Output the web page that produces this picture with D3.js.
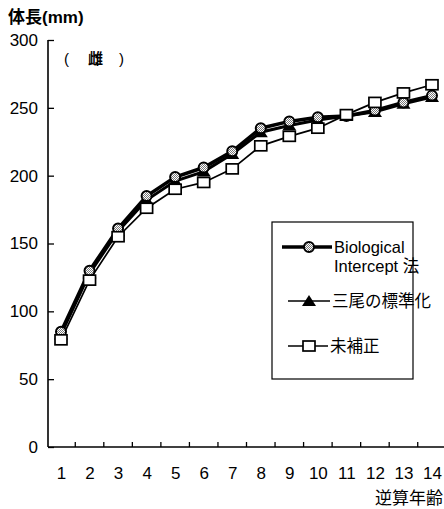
<!DOCTYPE html>
<html><head><meta charset="utf-8">
<script src="https://cdn.jsdelivr.net/npm/d3@7"></script>
<style>
body{margin:0;background:#fff;}
text{font-family:"Liberation Sans",Arial,"Noto Sans CJK JP",sans-serif;fill:#000;}
</style></head>
<body>
<script>
const ages = [1,2,3,4,5,6,7,8,9,10,11,12,13,14];
const biological = [85,130,161,185,199,206,218,235,240,243,244,248,254,259];
const mio = [83,128,159,182,196,203,216,232,237,241,244,247,253,258];
const uncorrected = [79,123,155,176,190,195,205,222,229,235,245,254,261,267];
const yTicks = [0,50,100,150,200,250,300];
const seriesNames = ["Biological\nIntercept  法","三尾の標準化","未補正"];

const W=444,H=509;
const svg=d3.select("body").append("svg").attr("width",W).attr("height",H);

const x=d3.scaleLinear().domain([1,14]).range([61,432]);
const y=d3.scaleLinear().domain([0,300]).range([447,40]);

// y axis
const yAxis=d3.axisLeft(y).tickValues(yTicks).tickSize(-6).tickPadding(10).tickFormat(d3.format("d"));
const gy=svg.append("g").attr("transform","translate(48,0)").call(yAxis);
gy.select(".domain").attr("d",`M0,${y(0)}V${y(300)}`).attr("stroke","#000").attr("stroke-width",1.6);
gy.selectAll(".tick line").attr("stroke","#000").attr("stroke-width",1.3);
gy.selectAll(".tick text").attr("font-size",17).attr("x",-10).style("font-family","Liberation Sans, Arial, sans-serif");

// x axis: labels at ages, tick marks between
const xAxis=d3.axisBottom(x).tickValues(ages).tickSize(0).tickPadding(20).tickFormat(d3.format("d"));
const gx=svg.append("g").attr("transform",`translate(0,${y(0)})`).call(xAxis);
gx.select(".domain").attr("d",`M48,0H444`).attr("stroke","#000").attr("stroke-width",1.6);
gx.selectAll(".tick text").attr("font-size",17).style("font-family","Liberation Sans, Arial, sans-serif");
const mids=ages.slice(0,-1).map(a=>a+0.5);
gx.selectAll("line.mid").data(mids).enter().append("line").attr("class","mid")
  .attr("x1",d=>x(d)).attr("x2",d=>x(d)).attr("y1",0).attr("y2",-5).attr("stroke","#000").attr("stroke-width",1.3);

// titles
svg.append("text").attr("x",8).attr("y",23).attr("font-size",17).attr("font-weight","bold").text("体長(mm)");
svg.append("text").attr("x",443).attr("y",504).attr("text-anchor","end").attr("font-size",17).text("逆算年齢");
svg.append("text").attr("x",64).attr("y",64).attr("font-size",15).text("(");
svg.append("text").attr("x",88).attr("y",64).attr("font-size",15).attr("font-weight","bold").text("雌");
svg.append("text").attr("x",119).attr("y",64).attr("font-size",15).text(")");

const line=d3.line().x((d,i)=>x(ages[i])).y(d=>y(d));

// pattern for circle markers
const defs=svg.append("defs");
const pat=defs.append("pattern").attr("id","hatch").attr("patternUnits","userSpaceOnUse").attr("width",2).attr("height",2);
pat.append("rect").attr("width",2).attr("height",2).attr("fill","#fff");
pat.append("rect").attr("width",1).attr("height",1).attr("fill","#777");
pat.append("rect").attr("x",1).attr("y",1).attr("width",1).attr("height",1).attr("fill","#777");

function triangle(g,cx,cy){
  g.append("path").attr("d",`M${cx},${cy-6}L${cx+7},${cy+5}L${cx-7},${cy+5}Z`).attr("fill","#000");
}
function square(g,cx,cy){
  g.append("rect").attr("x",cx-6).attr("y",cy-5).attr("width",12).attr("height",10).attr("fill","#fff").attr("stroke","#000").attr("stroke-width",1.7);
}
function circle(g,cx,cy){
  g.append("circle").attr("cx",cx).attr("cy",cy).attr("r",5).attr("fill","url(#hatch)").attr("stroke","#000").attr("stroke-width",2);
}

// uncorrected
svg.append("path").datum(uncorrected).attr("d",line).attr("fill","none").attr("stroke","#000").attr("stroke-width",1.7);
// mio
svg.append("path").datum(mio).attr("d",line).attr("fill","none").attr("stroke","#000").attr("stroke-width",3);
// biological
svg.append("path").datum(biological).attr("d",line).attr("fill","none").attr("stroke","#000").attr("stroke-width",3.5);

const gm=svg.append("g");
mio.forEach((v,i)=>triangle(gm,x(ages[i]),y(v)));
biological.forEach((v,i)=>circle(gm,x(ages[i]),y(v)));
uncorrected.forEach((v,i)=>square(gm,x(ages[i]),y(v)));

// legend
const lg=svg.append("g");
lg.append("rect").attr("x",272).attr("y",222).attr("width",141).attr("height",157).attr("fill","#fff").attr("stroke","#000").attr("stroke-width",1.2);
lg.append("line").attr("x1",282).attr("x2",332).attr("y1",247).attr("y2",247).attr("stroke","#000").attr("stroke-width",3.5);
circle(lg,309,247);
const t1=seriesNames[0].split("\n");
lg.append("text").attr("x",334).attr("y",253).attr("font-size",16.5).text(t1[0]);
lg.append("text").attr("x",334).attr("y",272).attr("font-size",16.5).text(t1[1]);
lg.append("line").attr("x1",288).attr("x2",330).attr("y1",301).attr("y2",301).attr("stroke","#000").attr("stroke-width",1.6);
triangle(lg,309,301);
lg.append("text").attr("x",332).attr("y",307).attr("font-size",16.5).text(seriesNames[1]);
lg.append("line").attr("x1",288).attr("x2",328).attr("y1",346).attr("y2",346).attr("stroke","#000").attr("stroke-width",1.6);
square(lg,309,346);
lg.append("text").attr("x",330).attr("y",352).attr("font-size",16.5).text(seriesNames[2]);
</script>
</body></html>
